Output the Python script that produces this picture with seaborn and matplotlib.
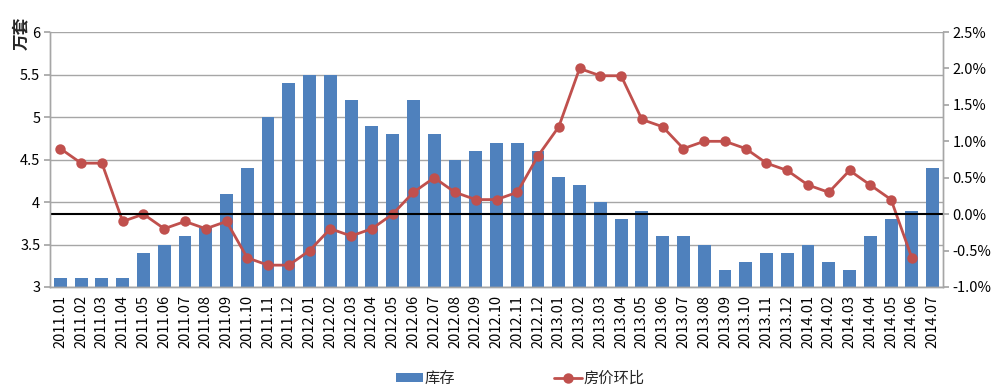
import numpy as np
import pandas as pd
import matplotlib
matplotlib.use('Agg')
import matplotlib.pyplot as plt
import seaborn as sns

# monthly data 2011.01 - 2014.07
months = ['2011.01', '2011.02', '2011.03', '2011.04', '2011.05', '2011.06', '2011.07', '2011.08',
          '2011.09', '2011.10', '2011.11', '2011.12', '2012.01', '2012.02', '2012.03', '2012.04',
          '2012.05', '2012.06', '2012.07', '2012.08', '2012.09', '2012.10', '2012.11', '2012.12',
          '2013.01', '2013.02', '2013.03', '2013.04', '2013.05', '2013.06', '2013.07', '2013.08',
          '2013.09', '2013.10', '2013.11', '2013.12', '2014.01', '2014.02', '2014.03', '2014.04',
          '2014.05', '2014.06', '2014.07']
stock = [3.1, 3.1, 3.1, 3.1, 3.4, 3.5, 3.6, 3.7, 4.1, 4.4, 5.0, 5.4, 5.5, 5.5, 5.2, 4.9,
         4.8, 5.2, 4.8, 4.5, 4.6, 4.7, 4.7, 4.6, 4.3, 4.2, 4.0, 3.8, 3.9, 3.6, 3.6, 3.5,
         3.2, 3.3, 3.4, 3.4, 3.5, 3.3, 3.2, 3.6, 3.8, 3.9, 4.4]
price_mom = [0.9, 0.7, 0.7, -0.1, 0.0, -0.2, -0.1, -0.2, -0.1, -0.6, -0.7, -0.7, -0.5, -0.2,
             -0.3, -0.2, 0.0, 0.3, 0.5, 0.3, 0.2, 0.2, 0.3, 0.8, 1.2, 2.0, 1.9, 1.9, 1.3, 1.2,
             0.9, 1.0, 1.0, 0.9, 0.7, 0.6, 0.4, 0.3, 0.6, 0.4, 0.2, -0.6, np.nan]

df = pd.DataFrame({'month': months, 'stock': stock, 'mom': price_mom})

sns.set_theme(style='white')
plt.rcParams['font.family'] = ['Noto Sans CJK SC', 'DejaVu Sans']

bar_color = '#4F81BD'
line_color = '#C0504D'
grid_color = '#A6A6A6'

fig = plt.figure(figsize=(10, 3.91), dpi=100)
ax = fig.add_axes([0.050, 0.266, 0.893, 0.652])
ax2 = ax.twinx()

sns.barplot(data=df, x='month', y='stock', color=bar_color, saturation=1, width=0.62,
            linewidth=0, ax=ax, label='库存')
sns.pointplot(data=df, x='month', y='mom', color=line_color, markers='o', markersize=6,
              linewidth=2, ax=ax2, label='房价环比', errorbar=None)

ax.set_ylim(3, 6)
ax.set_yticks(np.arange(3, 6.01, 0.5))
ax.set_yticklabels(['3', '3.5', '4', '4.5', '5', '5.5', '6'])
ax2.set_ylim(-1.0, 2.5)
ax2.set_yticks(np.arange(-1.0, 2.51, 0.5))
ax2.set_yticklabels([f'{v:.1f}%' for v in np.arange(-1.0, 2.51, 0.5)])
ax.set_xlim(-0.5, len(months) - 0.5)

ax.yaxis.grid(True, color=grid_color, linewidth=1)
ax.set_axisbelow(True)
ax2.axhline(0, color='black', linewidth=1.5)

ax.set_xlabel('')
ax.set_ylabel('')
ax2.set_xlabel('')
ax2.set_ylabel('')
ax.set_xticks(range(len(months)))
ax.set_xticklabels(months, rotation=90, fontsize=10.5, color='black')
ax.tick_params(axis='x', length=0, pad=6)
ax.tick_params(axis='y', labelsize=10.5, colors='black', length=4, left=True,
               color=grid_color, pad=3)
ax2.tick_params(axis='y', labelsize=10.5, colors='black', length=4, right=True,
                color=grid_color, pad=3)
for a in (ax, ax2):
    a.spines['top'].set_visible(False)
    for s in ('left', 'right', 'bottom'):
        a.spines[s].set_color(grid_color)
        a.spines[s].set_linewidth(1)

h1, l1 = ax.get_legend_handles_labels()
h2, l2 = ax2.get_legend_handles_labels()
for a in (ax, ax2):
    if a.get_legend():
        a.get_legend().remove()

fig.text(0.012, 0.915, '万套', rotation=90, fontsize=12, fontweight='bold', va='center')

fig.legend(h1 + h2, l1 + l2, loc='center', bbox_to_anchor=(0.52, 0.033), ncol=2,
           frameon=False, fontsize=11, columnspacing=6.5, handlelength=1.8,
           handleheight=0.5, handletextpad=0.1)

fig.savefig('out.png', dpi=100)
